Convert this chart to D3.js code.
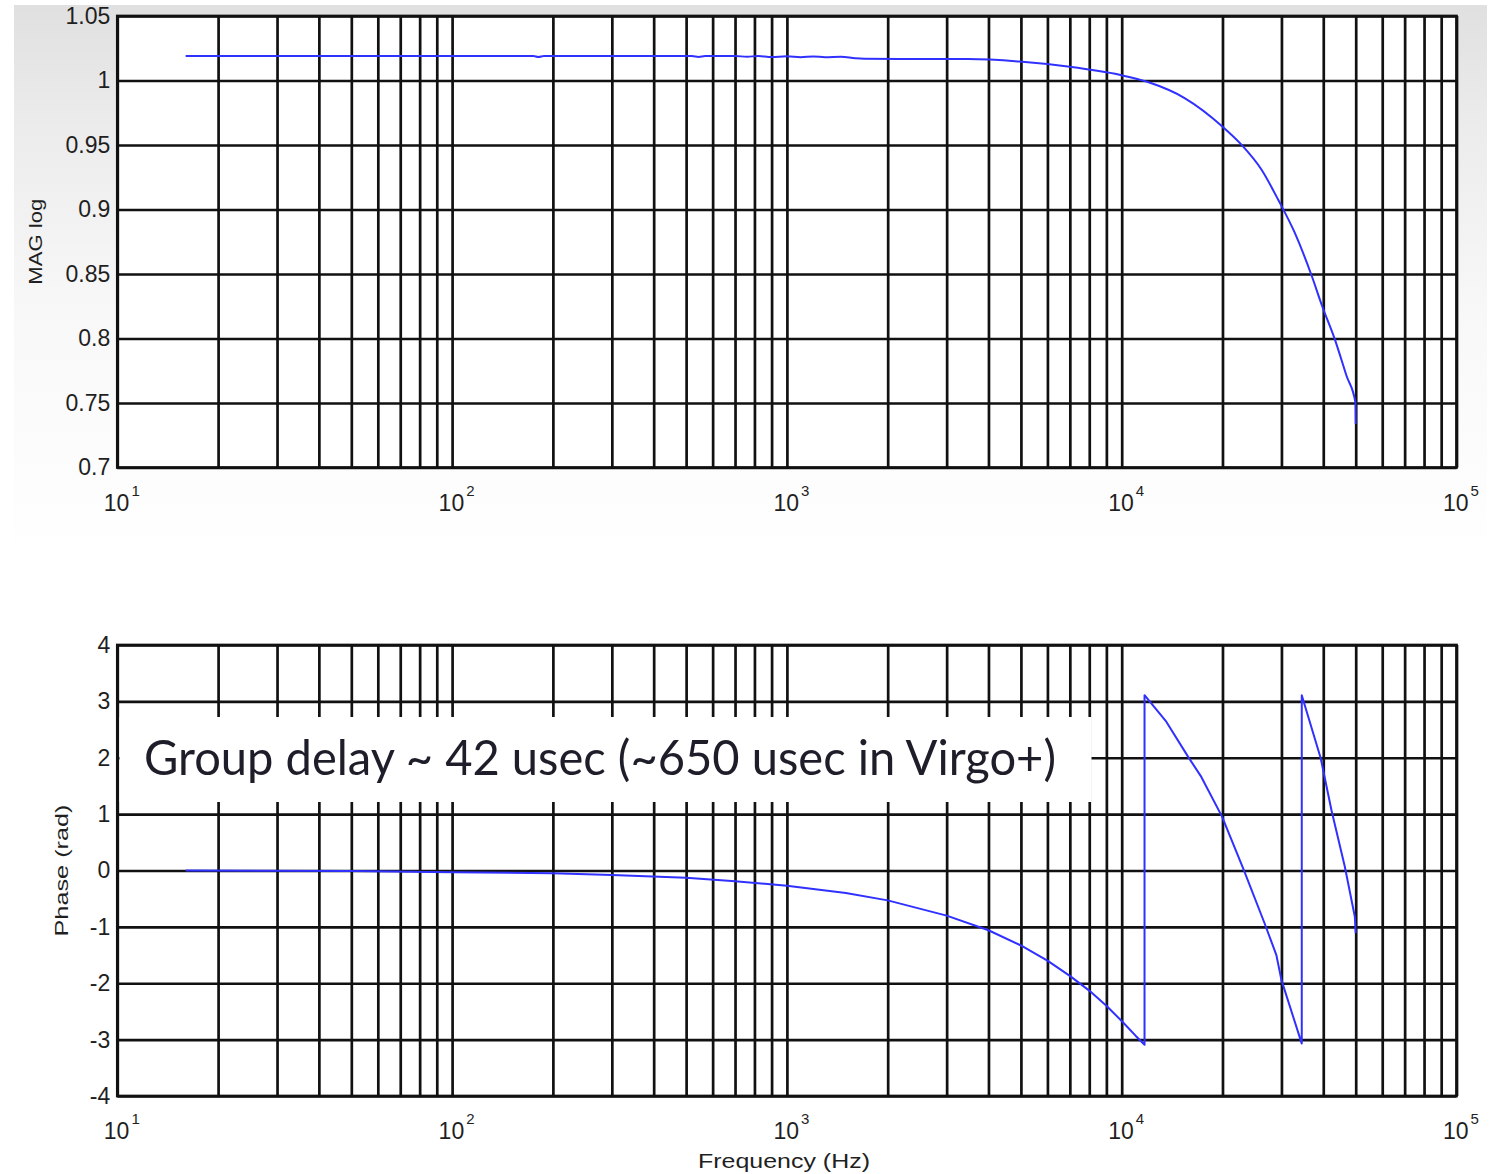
<!DOCTYPE html>
<html><head><meta charset="utf-8">
<script src="https://cdn.jsdelivr.net/npm/d3@7"></script>
<style>body{margin:0;background:#fff}svg{display:block}</style>
</head><body><svg id="c" width="1493" height="1174"></svg>
<script>
// ---- data ----
const gridFreqs = [10,20,30,40,50,60,70,80,90,100,200,300,400,500,600,700,800,900,1000,2000,3000,4000,5000,6000,7000,8000,9000,10000,20000,30000,40000,50000,60000,70000,80000,90000,100000];
const decadeTicks = [10,100,1000,10000,100000];
const decadeExp = ["1","2","3","4","5"];
const magTicks = [0.7,0.75,0.8,0.85,0.9,0.95,1,1.05];
const magLabels = ["0.7","0.75","0.8","0.85","0.9","0.95","1","1.05"];
const phaseTicks = [-4,-3,-2,-1,0,1,2,3,4];
const phaseLabels = ["-4","-3","-2","-1","0","1","2","3","4"];

const magFreq  = [16,60,120,175,181,188,300,450,520,545,570,700,760,820,900,1000,1100,1200,1300,1450,1600,1700,2200,3470,4950,6900,9850,11980,15410,19980,22780,26140,29320,32870,36870,39690,43290,46930,49930,50000];
const magValue = [1.019,1.019,1.019,1.019,1.0182,1.019,1.019,1.019,1.019,1.0183,1.019,1.019,1.0184,1.019,1.0182,1.0188,1.0181,1.0187,1.018,1.0185,1.0172,1.0168,1.0166,1.0166,1.0147,1.0108,1.0044,0.9988,0.9864,0.9644,0.9503,0.931,0.9077,0.882,0.8492,0.8252,0.7995,0.7711,0.75,0.7337];

const phaseFreq  = [16,50,100,200,300,500,700,1000,1500,2000,3000,4000,5000,6000,7000,8000,9000,10000,11000,11700,11700,13590,15780,17290,19940,23040,26730,28970,29990,34500,34500,39310,42320,46380,49700,50000];
const phaseValue = [0,-0.01,-0.03,-0.05,-0.08,-0.13,-0.19,-0.27,-0.40,-0.53,-0.80,-1.06,-1.33,-1.60,-1.87,-2.13,-2.40,-2.67,-2.93,-3.09,3.11,2.64,2.02,1.66,0.955,0.04,-0.94,-1.5,-1.94,-3.07,3.11,1.99,1.07,0.07,-0.82,-1.11];

const annotation = "Group delay ~ 42 usec (~650 usec in Virgo+)";

// ---- layout ----
const svg = d3.select("#c");
const L = 117.3, R = 1456.5;
const top1 = 16, bot1 = 467.5, top2 = 645, bot2 = 1096;
const gridW = 2.7, ink = "#111";
const labFont = "'Liberation Sans', Arial, sans-serif";
const labCol = "#1f1f1f";

// background shading
const defs = svg.append("defs");
const lg = defs.append("linearGradient").attr("id","bg").attr("x1",0).attr("y1",0).attr("x2",0).attr("y2",1);
lg.append("stop").attr("offset","0%").attr("stop-color","#e0e0e0");
lg.append("stop").attr("offset","20%").attr("stop-color","#ebebeb");
lg.append("stop").attr("offset","55%").attr("stop-color","#f8f8f8");
lg.append("stop").attr("offset","100%").attr("stop-color","#ffffff");
svg.append("rect").attr("x",14).attr("y",5).attr("width",1473).attr("height",560).attr("fill","url(#bg)");

const x = d3.scaleLog().domain([10,100000]).range([L,R]);

function panel(top, bot, yDom, yTicks, yLabels, ylabel, ylabX, ylabLen) {
  const y = d3.scaleLinear().domain(yDom).range([bot, top]);
  const g = svg.append("g");
  g.append("rect").attr("x",L).attr("y",top).attr("width",R-L).attr("height",bot-top).attr("fill","#fff");

  // vertical grid
  const gx = g.append("g").attr("transform",`translate(0,${bot})`)
    .call(d3.axisBottom(x).tickValues(gridFreqs).tickSize(-(bot-top)).tickFormat(""));
  gx.select(".domain").remove();
  gx.selectAll("line").attr("stroke",ink).attr("stroke-width",gridW);

  // horizontal grid + labels
  const gy = g.append("g").attr("transform",`translate(${L},0)`)
    .call(d3.axisLeft(y).tickValues(yTicks).tickSize(-(R-L)).tickPadding(7).tickFormat((d,i)=>yLabels[i]));
  gy.select(".domain").remove();
  gy.selectAll("line").attr("stroke",ink).attr("stroke-width",gridW);
  gy.selectAll("text").attr("font-family",labFont).attr("font-size",23).attr("fill",labCol);

  // decade labels
  const gd = g.append("g").attr("transform",`translate(0,${bot})`)
    .call(d3.axisBottom(x).tickValues(decadeTicks).tickSize(0).tickFormat(""));
  gd.select(".domain").remove();
  gd.selectAll(".tick text").each(function(d,i){
    const t = d3.select(this);
    t.attr("y",43).attr("dy",null).attr("x",-14).attr("text-anchor","start")
     .attr("font-family",labFont).attr("font-size",23).attr("fill",labCol);
    t.text(null);
    t.append("tspan").text("10");
    t.append("tspan").attr("dx",2).attr("dy",-15).attr("font-size",15).text(decadeExp[i]);
  });

  // frame
  g.append("rect").attr("x",L).attr("y",top).attr("width",R-L).attr("height",bot-top)
    .attr("fill","none").attr("stroke",ink).attr("stroke-width",gridW);

  // y label
  g.append("text").attr("transform",`translate(${ylabX},${(top+bot)/2}) rotate(-90)`)
    .attr("text-anchor","middle").attr("font-family",labFont).attr("font-size",19).attr("fill",labCol)
    .attr("textLength",ylabLen).attr("lengthAdjust","spacingAndGlyphs").text(ylabel);
  return {g, y};
}

// top panel
const p1 = panel(top1, bot1, [0.7,1.05], magTicks, magLabels, "MAG log", 42, 86);
const magData = magFreq.map((f,i)=>[f, magValue[i]]);
p1.g.append("path").datum(magData)
  .attr("d", d3.line().curve(d3.curveMonotoneX).x(d=>x(d[0])).y(d=>p1.y(d[1])))
  .attr("fill","none").attr("stroke","#3030ff").attr("stroke-width",2);

// bottom panel
const p2 = panel(top2, bot2, [-4,4], phaseTicks, phaseLabels, "Phase (rad)", 68, 132);
// annotation box (drawn over grid)
p2.g.append("rect").attr("x",119.5).attr("y",717).attr("width",972).attr("height",85).attr("fill","#fff");
p2.g.append("text").attr("x",144).attr("y",775)
  .attr("font-family","Lato, 'Open Sans', sans-serif").attr("font-size",49).attr("fill","#1e1e2a")
  .attr("textLength",912).attr("lengthAdjust","spacingAndGlyphs").text(annotation);
const phData = phaseFreq.map((f,i)=>[f, phaseValue[i]]);
p2.g.append("path").datum(phData)
  .attr("d", d3.line().x(d=>x(d[0])).y(d=>p2.y(d[1])))
  .attr("fill","none").attr("stroke","#3030ff").attr("stroke-width",2).attr("stroke-linejoin","round");

// x axis title
svg.append("text").attr("x",784).attr("y",1168).attr("text-anchor","middle")
  .attr("font-family",labFont).attr("font-size",21).attr("fill",labCol)
  .attr("textLength",172).attr("lengthAdjust","spacingAndGlyphs").text("Frequency (Hz)");
</script></body></html>
